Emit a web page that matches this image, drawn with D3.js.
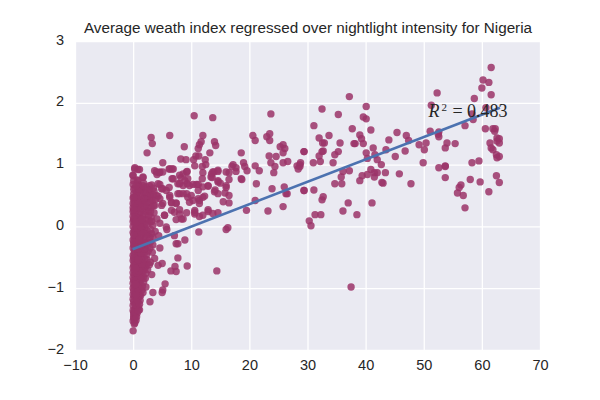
<!DOCTYPE html>
<html>
<head>
<meta charset="utf-8">
<script src="https://cdn.jsdelivr.net/npm/d3@7"></script>
<style>
body { margin: 0; background: #fff; }
text { font-family: "Liberation Sans", Arial, sans-serif; fill: #262626; }
</style>
</head>
<body>
<svg id="chart" width="600" height="400"></svg>
<script>
// Values, as [nightlight, wealth index]
const rightPoints = [[61.6,2.57],[60.2,2.37],[61.2,2.33],[60.0,2.24],[61.6,2.13],[58.7,2.07],[52.3,2.16],[37.2,2.10],[40.1,1.94],[51.3,1.96],[32.5,1.90],[35.3,1.81],[39.6,1.77],[40.1,1.74],[60.7,1.92],[58.5,1.73],[58.3,1.82],[57.1,1.63],[60.6,1.58],[61.9,1.58],[62.3,1.58],[62.2,1.54],[31.1,1.63],[37.7,1.58],[40.9,1.56],[45.4,1.52],[51.1,1.54],[52.6,1.53],[52.5,1.49],[52.6,1.45],[33.7,1.47],[32.0,1.43],[39.0,1.48],[39.3,1.42],[39.6,1.34],[47.0,1.47],[47.4,1.39],[44.0,1.40],[35.6,1.35],[32.6,1.35],[32.9,1.35],[38.0,1.34],[38.2,1.34],[49.2,1.32],[50.4,1.35],[54.0,1.35],[55.4,1.34],[53.7,1.27],[50.1,1.24],[62.6,1.43],[63.0,1.42],[62.6,1.38],[63.0,1.35],[61.4,1.35],[61.6,1.27],[61.9,1.24],[41.3,1.27],[43.5,1.24],[46.8,1.22],[29.4,1.21],[32.7,1.22],[32.5,1.21],[35.3,1.21],[34.7,1.16],[32.0,1.14],[40.1,1.19],[41.6,1.16],[45.1,1.13],[42.0,1.08],[40.3,1.10],[32.2,1.05],[31.0,1.03],[34.4,1.03],[42.7,1.00],[49.9,1.03],[62.5,1.16],[63.0,1.13],[62.6,1.11],[58.3,1.03],[59.5,1.06],[52.6,0.95],[53.7,0.98],[53.7,0.97],[28.7,1.00],[28.7,0.97],[37.2,0.90],[36.1,0.89],[40.9,0.92],[42.0,0.87],[41.5,0.87],[43.4,0.87],[45.8,0.85],[35.8,0.80],[39.4,0.82],[40.3,0.84],[41.5,0.80],[39.0,0.74],[42.8,0.71],[43.0,0.70],[34.7,0.69],[35.9,0.69],[47.8,0.69],[53.7,0.79],[62.5,0.82],[63.0,0.71],[59.7,0.72],[58.0,0.76],[56.4,0.67],[56.1,0.63],[55.8,0.54],[56.8,0.50],[61.2,0.56],[29.4,0.58],[31.1,0.59],[32.7,0.48],[32.5,0.43],[37.0,0.38],[41.1,0.38],[57.1,0.30],[36.1,0.25],[38.5,0.19],[31.3,0.19],[32.3,0.19],[30.3,0.09],[30.6,0.01],[37.5,-0.98]];
const middlePoints = [[10.5,1.79],[13.7,1.76],[23.7,1.82],[3.1,1.44],[6.3,1.47],[3.3,1.34],[2.4,1.19],[8.8,1.29],[12.0,1.47],[11.7,1.37],[11.4,1.32],[11.2,1.26],[14.0,1.37],[14.2,1.31],[13.2,1.19],[10.8,1.14],[11.3,1.14],[10.4,1.08],[18.6,1.19],[20.6,1.47],[21.0,1.39],[23.0,1.45],[23.5,1.50],[23.5,1.39],[25.3,1.29],[25.8,1.32],[26.1,1.26],[25.8,1.19],[29.4,1.21],[23.4,1.14],[24.6,1.13],[23.7,1.03],[24.4,0.97],[24.2,0.87],[25.8,1.03],[26.6,1.05],[28.2,0.98],[28.8,1.03],[28.4,0.93],[5.1,1.03],[8.2,1.09],[9.1,1.08],[12.4,1.08],[10.6,0.98],[11.9,0.97],[12.5,1.00],[17.2,1.00],[17.0,0.97],[17.7,0.95],[17.7,0.89],[16.5,0.87],[19.0,1.03],[19.2,0.97],[19.6,0.90],[21.0,0.98],[21.7,0.90],[18.6,0.77],[18.7,0.76],[16.5,0.76],[21.2,0.69],[23.9,0.61],[26.0,0.64],[26.3,0.53],[26.5,0.53],[29.4,0.58],[21.0,0.42],[25.8,0.32],[23.2,0.25],[19.5,0.26],[16.5,0.38],[15.5,0.40],[12.9,0.27],[10.6,0.26]];
const leftPoints = [[0.3,0.95],[1.1,0.92],[0.0,0.82],[1.7,0.79],[0.0,0.68],[0.9,0.68],[3.7,0.90],[4.5,0.87],[4.1,0.84],[6.2,0.93],[6.7,0.93],[6.7,0.77],[4.6,0.68],[5.1,0.61],[6.2,0.63],[8.6,0.85],[9.3,0.89],[8.2,0.79],[9.4,0.77],[8.0,0.69],[8.6,0.66],[9.3,0.69],[10.3,0.68],[11.2,0.68],[11.2,0.58],[12.0,0.87],[11.9,0.77],[13.5,0.85],[13.9,0.88],[14.6,0.89],[13.6,0.79],[14.6,0.74],[15.0,0.70],[12.9,0.65],[14.1,0.59],[14.6,0.53],[16.0,0.63],[15.8,0.54],[16.5,0.50],[12.3,0.49],[11.4,0.42],[10.3,0.42],[9.2,0.53],[8.0,0.53],[9.7,0.39],[6.3,0.47],[4.3,0.49],[7.4,0.38],[6.6,0.38],[4.9,0.34],[3.7,0.34],[14.4,-0.72],[9.3,-0.64],[7.7,-0.51],[7.4,-0.28],[7.7,-0.28],[8.9,-0.22],[11.3,-0.09],[16.0,-0.05],[16.3,-0.02],[6.5,-0.72],[7.2,-0.65],[7.4,-0.73],[5.5,-0.93],[5.1,-1.03],[5.0,-1.07],[3.4,-1.07],[2.9,-1.22],[5.0,-0.60],[4.3,-0.63],[3.2,-0.78],[2.2,-0.98],[1.1,-1.35],[7.1,-0.15],[5.7,-0.01],[5.8,-0.05],[4.6,-0.35],[3.7,-0.52],[11.4,0.16],[12.0,0.18],[10.6,0.20],[12.9,0.24],[14.6,0.22],[13.7,0.21],[7.4,0.11],[8.3,0.12],[9.2,0.22],[5.4,0.18],[6.6,0.26],[8.0,0.27],[7.1,0.23],[4.1,0.12],[4.6,0.05],[3.8,-0.08],[4.4,-0.15]];
const upperClusterPoints = [[0.26,0.93],[0.83,0.92],[-0.03,0.83],[1.7,0.80],[0.83,0.74],[1.4,0.61],[0.83,0.56],[2.8,0.66],[4.6,0.88],[4.0,0.88],[5.1,0.88],[6.3,0.93],[6.9,0.93],[4.3,0.69],[4.9,0.61],[5.7,0.58],[6.9,0.77],[8.0,0.83],[9.2,0.88],[8.9,0.74],[7.7,0.69],[9.7,0.66],[8.6,0.53],[7.7,0.53],[9.4,0.47],[10.0,0.50],[11.2,0.45],[12.0,0.47],[11.4,0.37],[10.9,0.68],[12.0,0.64],[13.7,0.88],[14.6,0.91],[13.4,0.80],[14.6,0.72],[16.0,0.66],[14.0,0.56],[16.0,0.88],[12.9,0.66],[10.6,0.23],[8.6,0.12],[8.0,0.20],[6.3,0.50],[4.0,0.50],[5.4,0.18],[6.6,0.39],[7.4,0.37],[5.1,0.37],[4.6,0.45]];
const columnPoints = [[0,-1.69],[0,-1.53],[0.1,-1.48],[0.4,-1.45],[0.1,-1.42],[0.7,-1.40],[0,-1.36],[0.4,-1.33],[0.9,-1.30],[0,-1.28],[0.3,-1.25],[0.8,-1.22],[1.2,-1.20],[0,-1.18],[0.5,-1.15],[1.1,-1.12],[0,-1.10],[0.3,-1.08],[0.9,-1.05],[1.5,-1.03],[0,-1.00],[0.5,-0.98],[1.1,-0.95],[0,-0.92],[0.3,-0.90],[1.3,-0.88],[0.7,-0.86],[0,-0.83],[1.8,-0.82],[0.4,-0.80],[1.1,-0.77],[0,-0.75],[1.6,-0.73],[0.6,-0.70],[0,-0.67],[2.1,-0.66],[1.2,-0.64],[0.3,-0.62],[0.8,-0.59],[1.7,-0.57],[0,-0.55],[2.4,-0.54],[0.5,-0.51],[1.2,-0.49],[0,-0.47],[1.9,-0.44],[0.7,-0.42],[0.2,-0.40],[2.6,-0.40],[1.3,-0.37],[0,-0.35],[0.8,-0.32],[2.0,-0.30],[0.3,-0.28],[1.4,-0.25],[3.0,-0.25],[0,-0.22],[0.9,-0.20],[2.1,-0.18],[0.4,-0.16],[1.5,-0.13],[3.2,-0.12],[0,-0.10],[0.8,-0.08],[2.4,-0.07],[0.3,-0.05],[1.6,-0.03],[0,0.00],[0.9,0.02],[3.4,0.02],[0.3,0.04],[1.7,0.06],[0,0.08],[2.6,0.10],[0.7,0.11],[1.3,0.13],[3.1,0.15],[0,0.16],[0.4,0.18],[2.0,0.19],[1.0,0.21],[3.6,0.22],[0,0.24],[2.6,0.25],[0.6,0.27],[1.6,0.28],[0,0.30],[3.1,0.31],[0.4,0.33],[2.2,0.34],[1.1,0.35],[0,0.37],[0.7,0.38],[2.8,0.39],[1.7,0.40],[0.2,0.41],[3.4,0.42],[1.1,0.44],[2.3,0.45],[0,0.46],[0.6,0.48],[3.0,0.49],[1.5,0.51],[0.1,0.53],[2.1,0.54],[0.8,0.56],[3.6,0.57],[2.8,0.59],[1.4,0.60],[0.3,0.62],[2.2,0.64],[1.0,0.66],[3.2,0.67],[0.1,0.74],[1.8,0.70],[0.7,0.75]];
const columnFillPoints = [[0.2,-1.58],[0.5,-1.52],[0.1,-1.39],[0.6,-1.30],[0.1,-1.22],[0.9,-1.16],[0.2,-1.13],[0.6,-1.05],[1.2,-1.00],[0.2,-0.97],[0.8,-0.91],[0.1,-0.87],[1.5,-0.84],[0.9,-0.80],[0.2,-0.78],[1.4,-0.69],[0.9,-0.68],[0.2,-0.71],[1.9,-0.61],[0.6,-0.62],[1.1,-0.55],[0.2,-0.57],[1.5,-0.52],[0.8,-0.47],[0.2,-0.44],[1.6,-0.44],[1.0,-0.40],[2.1,-0.37],[0.5,-0.36],[1.6,-0.32],[0.1,-0.30],[1.1,-0.28],[2.4,-0.25],[0.6,-0.24],[1.8,-0.22],[0.2,-0.19],[1.2,-0.17],[2.6,-0.13],[0.7,-0.13],[1.9,-0.10],[0.2,-0.07],[1.2,-0.05],[2.0,-0.02],[0.6,-0.01],[2.9,0.07],[1.2,0.06],[0.2,0.10],[2.1,0.11],[0.9,0.15],[1.6,0.17],[2.7,0.18],[0.2,0.21],[1.3,0.24],[2.2,0.25],[3.0,0.24],[0.7,0.30],[1.2,0.29],[2.6,0.31],[1.9,0.33],[3.5,0.34],[0.2,0.36],[1.4,0.38],[2.3,0.39],[0.9,0.41],[3.1,0.43],[1.9,0.46],[3.9,0.44],[0.3,0.48],[1.1,0.50],[2.5,0.50],[3.4,0.52],[0.6,0.55],[1.8,0.56],[2.9,0.54],[0.1,0.60],[1.0,0.61],[2.3,0.60],[3.5,0.62],[0.5,0.66],[1.7,0.66],[0.1,0.47],[0.1,0.27],[0.1,0.12],[0.1,-0.14],[0.1,-0.26],[0.1,-0.51],[0.1,-0.63],[0.1,-1.04],[0.1,-1.46]];
const lowerColumnPoints = [[0.3,-1.56],[0.2,-1.50],[0.6,-1.46],[0.3,-1.38],[0.9,-1.36],[0.5,-1.27],[1.1,-1.26],[0.7,-1.18],[1.3,-1.12],[0.5,-1.10],[1.7,-1.07],[0.8,-1.01],[1.6,-0.97],[1.0,-0.90],[1.8,-0.90],[0.5,-0.87],[2.1,-0.84],[1.3,-0.81],[2.2,-0.76],[0.6,-0.75],[1.9,-0.71],[2.5,-0.70],[1.0,-0.72],[2.3,-0.62],[1.5,-0.61],[2.8,-0.62],[2.0,-0.53],[3.0,-0.58],[0.9,-0.54],[2.3,-0.46],[3.3,-0.42],[1.4,-0.43],[2.9,-0.35],[1.9,-0.36],[0.9,-0.36],[2.5,-0.29],[3.4,-0.30],[1.3,-0.31],[1.9,-0.26],[2.9,-0.18],[1.0,-0.22],[2.2,-0.12],[3.4,-0.18],[1.4,-0.09],[3.0,-0.05],[0.7,-0.03],[1.9,0.02],[1.3,0.00],[2.4,0.04],[0.5,0.07],[3.2,0.08],[1.5,0.11],[0.3,-0.33],[0.4,-0.68],[0.4,-0.94]];
const lineX = [-0.1, 63.1];
const lineY = [-0.37, 1.92];
const xTicks = [-10, 0, 10, 20, 30, 40, 50, 60, 70];
const yTicks = [-2, -1, 0, 1, 2, 3];
const title = "Average weath index regressed over nightlight intensity for Nigeria";

const margin = { left: 75, right: 60, top: 41, bottom: 50 };
const width = 600, height = 400;
const svg = d3.select("#chart");

const x = d3.scaleLinear().domain([-10, 70]).range([margin.left, width - margin.right]);
const y = d3.scaleLinear().domain([-2, 3]).range([height - margin.bottom, margin.top]);

svg.append("rect")
    .attr("x", margin.left).attr("y", margin.top)
    .attr("width", width - margin.left - margin.right)
    .attr("height", height - margin.top - margin.bottom)
    .attr("fill", "#eaeaf2");

// Axes double as the white grid, seaborn style
const minus = (d) => String(d).replace("-", "\u2212");
svg.append("g")
    .attr("transform", `translate(0, ${height - margin.bottom})`)
    .call(d3.axisBottom(x).tickValues(xTicks).tickFormat(minus)
        .tickSizeInner(-(height - margin.top - margin.bottom)).tickSizeOuter(0).tickPadding(10));
const yAxis = svg.append("g")
    .attr("transform", `translate(${margin.left}, 0)`)
    .call(d3.axisLeft(y).tickValues(yTicks).tickFormat(minus)
        .tickSizeInner(-(width - margin.left - margin.right)).tickSizeOuter(0).tickPadding(11));
svg.selectAll(".domain").remove();
svg.selectAll(".tick line").attr("stroke", "#fff").attr("stroke-width", 1.3);
svg.selectAll(".tick text").style("font-size", "14.5px").style("font-family", '"Liberation Sans", Arial, sans-serif').attr("fill", "#262626");
yAxis.selectAll(".tick text").attr("y", -1.5);

const points = [].concat(rightPoints, middlePoints, leftPoints, upperClusterPoints, columnPoints, columnFillPoints, lowerColumnPoints);
svg.append("g").selectAll("circle").data(points).enter().append("circle")
    .attr("cx", (d) => x(d[0]))
    .attr("cy", (d) => y(d[1]))
    .attr("r", 3.7)
    .attr("fill", "#9b3468")
    .attr("fill-opacity", 0.85);

const line = d3.line().x((d) => x(d)).y((d, i) => y(lineY[i]));
svg.append("path")
    .attr("d", line(lineX))
    .attr("fill", "none")
    .attr("stroke", "#4c72b0")
    .attr("stroke-width", 2.6);

svg.append("text")
    .attr("x", (margin.left + width - margin.right) / 2 + 0.5)
    .attr("y", 33)
    .attr("text-anchor", "middle")
    .style("font-size", "15.25px")
    .text(title);

// R squared label, spaced out the way mathtext does it
const rx = x(50.8);
const r2 = svg.append("text")
    .attr("x", rx).attr("y", y(1.77))
    .style("font-family", '"Liberation Serif", serif')
    .style("font-size", "18px")
    .attr("fill", "#222");
r2.append("tspan").style("font-style", "italic").text("R");
r2.append("tspan").attr("x", rx + 13).attr("dy", -6.5).style("font-size", "11px").text("2");
r2.append("tspan").attr("x", rx + 24).attr("dy", 6.5).text("=");
r2.append("tspan").attr("x", rx + 38.5).text("0.");
r2.append("tspan").attr("x", rx + 52).text("483");
</script>
</body>
</html>
